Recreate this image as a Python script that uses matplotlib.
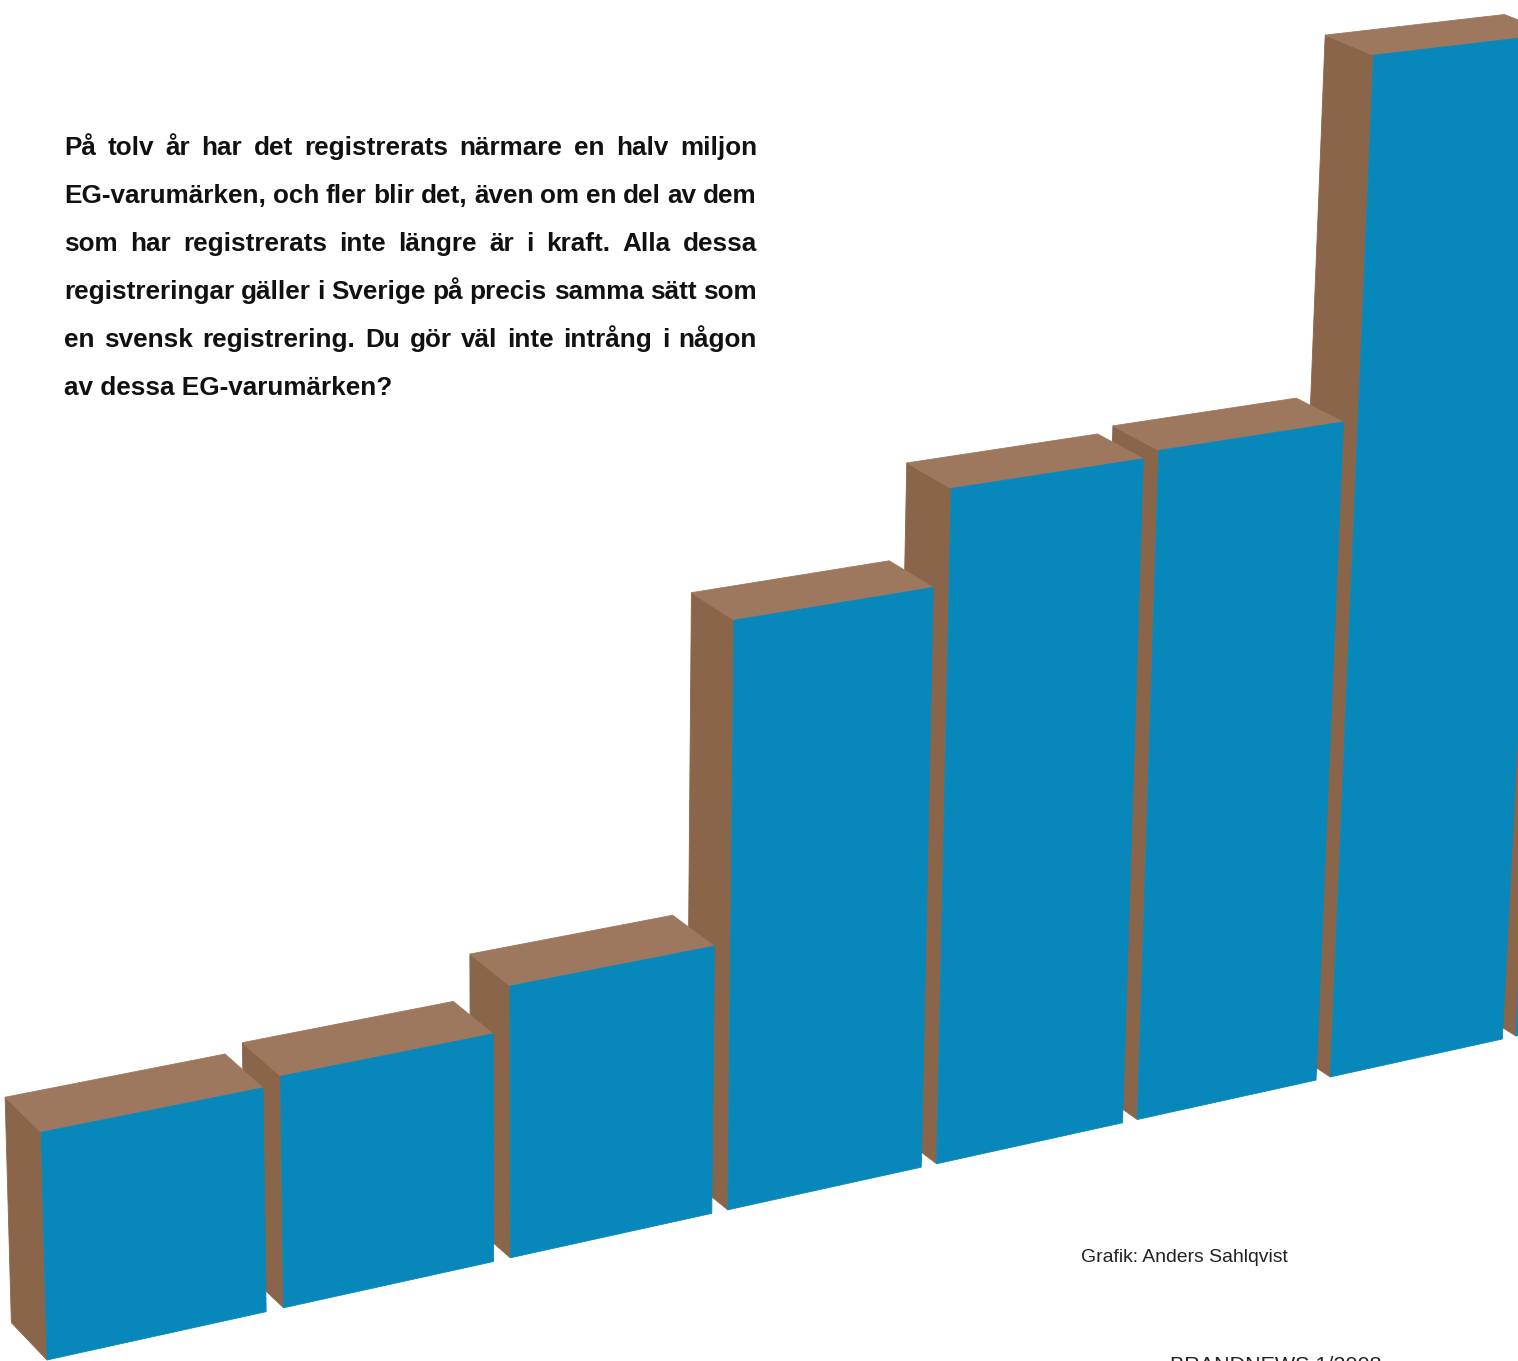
import numpy as np
import matplotlib
matplotlib.use('Agg')
import matplotlib.pyplot as plt
from matplotlib.patches import Polygon

# ---------------- data ----------------
# relative bar heights; last bar is mostly off-page
values = [22.5, 23.3, 27.8, 60.4, 70.1, 70.7, 107.9, 115.0]
bar_index = list(range(len(values)))

paragraph_lines = [
    "På tolv år har det registrerats närmare en halv miljon",
    "EG-varumärken, och fler blir det, även om en del av dem",
    "som har registrerats inte längre är i kraft. Alla dessa",
    "registreringar gäller i Sverige på precis samma sätt som",
    "en svensk registrering. Du gör väl inte intrång i någon",
    "av dessa EG-varumärken?",
]
credit = "Grafik: Anders Sahlqvist"
footer = "BRANDNEWS 1/2008"

# ---------------- style ----------------
W, H = 1518, 1361
FRONT = '#0888BA'
TOP = '#9D785F'
SIDE = '#8B6549'

# perspective camera (three vanishing points)
ORIGIN = np.array([47.0, 1360.0])
VP_X = np.array([11200.0, -1100.0])
VP_Y = np.array([530.0, 20000.0])
VP_Z = np.array([-2890.0, -1720.0])
KX, KY, KZ = 0.02167, -1.0 / 18639.0, 0.01228
HEIGHT_SCALE = 10.0
BAR_W = 0.925
BAR_D = 1.0


def project(X, Y, Z):
    wx, wy, wz = KX * X, KY * Y, KZ * Z
    w = 1.0 + wx + wy + wz
    p = ORIGIN + wx * VP_X + wy * VP_Y + wz * VP_Z
    return p / w


fig = plt.figure(figsize=(W / 100, H / 100), dpi=100)
ax = fig.add_axes([0, 0, 1, 1])
ax.set_xlim(0, W)
ax.set_ylim(H, 0)
ax.axis('off')

# draw bars back (right) to front (left)
for i, v in reversed(list(zip(bar_index, values))):
    h = v * HEIGHT_SCALE
    x0, x1 = i, i + BAR_W
    side = [project(x0, 0, 0), project(x0, h, 0), project(x0, h, BAR_D), project(x0, 0, BAR_D)]
    top = [project(x0, h, 0), project(x1, h, 0), project(x1, h, BAR_D), project(x0, h, BAR_D)]
    front = [project(x0, 0, 0), project(x1, 0, 0), project(x1, h, 0), project(x0, h, 0)]
    for poly, col in ((side, SIDE), (top, TOP), (front, FRONT)):
        ax.add_patch(Polygon(poly, closed=True, facecolor=col, edgecolor=col, linewidth=0.6))

renderer = fig.canvas.get_renderer()


def text_width(s, **kw):
    t = ax.text(0, 0, s, **kw)
    wdt = t.get_window_extent(renderer).width
    t.remove()
    return wdt


# paragraph (bold, justified)
pkw = dict(family='Liberation Sans', fontweight='bold', color='#111111')
fs = 16 * 328.0 / text_width(paragraph_lines[-1], fontsize=16, **pkw)
pkw['fontsize'] = fs
X0, X1 = 64, 757
Y0, DY = 155, 48
for k, line in enumerate(paragraph_lines):
    y = Y0 + k * DY
    if k == len(paragraph_lines) - 1:
        ax.text(X0, y, line, ha='left', va='baseline', **pkw)
        continue
    words = line.split(' ')
    widths = [text_width(wd, **pkw) for wd in words]
    gap = (X1 - X0 - sum(widths)) / (len(words) - 1)
    x = X0
    for wd, wdt in zip(words, widths):
        ax.text(x, y, wd, ha='left', va='baseline', **pkw)
        x += wdt + gap

# credit
ckw = dict(family='Liberation Sans', color='#222222')
cfs = 14 * 209.0 / text_width(credit, fontsize=14, **ckw)
ax.text(1081, 1262, credit, ha='left', va='baseline', fontsize=cfs, **ckw)

# footer (cut off at page bottom, as in the original page)
ffs = 14 * 212.0 / text_width(footer, fontsize=14, **ckw)
ax.text(1170, 1356, footer, ha='left', va='top', fontsize=ffs, **ckw)

fig.savefig('out.png', dpi=100)
